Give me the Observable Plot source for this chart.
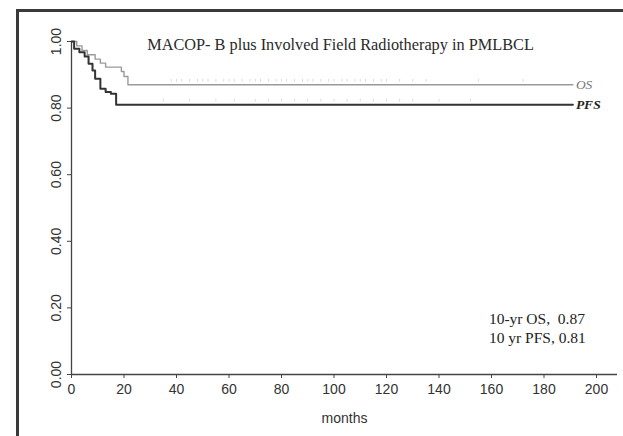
<!DOCTYPE html>
<html>
<head>
<meta charset="utf-8">
<script src="https://cdn.jsdelivr.net/npm/d3@7"></script>
<script src="https://cdn.jsdelivr.net/npm/@observablehq/plot@0.6"></script>
<style>
  html, body { margin: 0; padding: 0; background: #fff; }
  #wrap { position: relative; width: 623px; height: 436px; overflow: hidden; }
  #frame { position: absolute; left: 16px; top: 9px; width: 700px; height: 500px;
           border-left: 3px solid #3a3a3a; border-top: 3px solid #3a3a3a; box-sizing: border-box; }
  #chart { position: absolute; left: 0; top: 0; }
</style>
</head>
<body>
<div id="wrap"><div id="frame"></div><div id="chart"></div></div>
<script>
// Data
const title = "MACOP- B plus Involved Field Radiotherapy in PMLBCL";
const osTime = [0, 2, 4, 6, 9, 11, 13, 19, 20, 21.5, 191];
const osSurv = [1, 0.987, 0.973, 0.96, 0.947, 0.935, 0.923, 0.91, 0.895, 0.87, 0.87];
const pfsTime = [0, 1, 3, 5, 6.5, 8, 9, 11, 13, 15, 17, 191];
const pfsSurv = [1, 0.978, 0.968, 0.955, 0.933, 0.913, 0.888, 0.858, 0.848, 0.843, 0.81, 0.81];
const osCensor = [38, 40, 42, 45, 48, 50, 52, 55, 58, 60, 62, 65, 68, 70, 72, 75, 78, 80, 82, 85, 88, 90, 92, 95, 98, 100, 103, 105, 108, 110, 112, 115, 118, 120, 125, 130, 135, 155, 172];
const pfsCensor = [35, 45, 55, 62, 70, 75, 80, 85, 90, 95, 100, 105, 110, 115, 120, 125, 130, 140, 152];
const seriesNames = ["OS", "PFS"];
const xTicks = [0, 20, 40, 60, 80, 100, 120, 140, 160, 180, 200];
const yTicks = [0, 0.2, 0.4, 0.6, 0.8, 1.0];
const yTickLabels = ["0.00", "0.20", "0.40", "0.60", "0.80", "1.00"];
const notes = ["10-yr OS,  0.87", "10 yr PFS, 0.81"];
const noteY = [0.168, 0.111];
const xLabel = "months";

const os = osTime.map((t, i) => ({t, s: osSurv[i]}));
const pfs = pfsTime.map((t, i) => ({t, s: pfsSurv[i]}));
const osC = osCensor.map(t => ({t, s: osSurv[osSurv.length - 1]}));
const pfsC = pfsCensor.map(t => ({t, s: pfsSurv[pfsSurv.length - 1]}));
const yLab = yTicks.map((v, i) => ({v, label: yTickLabels[i]}));

const sans = "'Liberation Sans', Arial, sans-serif";
const serif = "'Liberation Serif', 'Times New Roman', serif";

const chart = Plot.plot({
  width: 623,
  height: 436,
  marginLeft: 71,
  marginRight: 6,
  marginTop: 41,
  marginBottom: 62,
  style: {fontFamily: sans, fontSize: "14px", color: "#333", background: "transparent"},
  x: {domain: [0, 208]},
  y: {domain: [0, 1]},
  marks: [
    Plot.ruleY([0], {stroke: "#444", strokeWidth: 1.3}),
    Plot.ruleX([0], {y1: 0, y2: 1, stroke: "#444", strokeWidth: 1.3}),
    Plot.axisX({ticks: xTicks, tickSize: 4, tickPadding: 6, tickFormat: d => String(d), label: null, stroke: "#444", fill: "#333", fontSize: 14, fontFamily: sans}),
    Plot.axisY({ticks: yTicks, tickSize: 4, tickFormat: () => "", label: null, stroke: "#444"}),
    Plot.text(yLab, {y: "v", text: "label", frameAnchor: "left", dx: -15, rotate: -90, textAnchor: "middle", lineAnchor: "middle", fill: "#333", fontSize: 14, fontFamily: sans}),
    Plot.text([xLabel], {frameAnchor: "bottom", dy: 44, lineAnchor: "middle", fill: "#333", fontSize: 14, fontFamily: sans}),
    Plot.text([title], {frameAnchor: "top", dx: -4, dy: 3, lineAnchor: "middle", fill: "#2a2a2a", fontSize: 16.3, fontFamily: serif}),
    // censor marks
    Plot.ruleX(osC, {x: "t", y1: d => d.s + 0.008, y2: d => d.s + 0.016, stroke: "#dadada", strokeWidth: 1}),
    Plot.ruleX(pfsC, {x: "t", y1: d => d.s + 0.008, y2: d => d.s + 0.016, stroke: "#dadada", strokeWidth: 1}),
    Plot.line(os, {x: "t", y: "s", curve: "step-after", stroke: "#9a9a9a", strokeWidth: 1.4}),
    Plot.line(pfs, {x: "t", y: "s", curve: "step-after", stroke: "#333", strokeWidth: 2}),
    Plot.text([os[os.length - 1]], {x: "t", y: "s", text: () => seriesNames[0], dx: 3, textAnchor: "start", fill: "#777", fontStyle: "italic", fontSize: 13.5, fontFamily: serif}),
    Plot.text([pfs[pfs.length - 1]], {x: "t", y: "s", text: () => seriesNames[1], dx: 3, textAnchor: "start", fill: "#222", fontStyle: "italic", fontWeight: "bold", fontSize: 13.5, fontFamily: serif}),
    Plot.text(notes, {text: d => d, x: () => 159, y: (d, i) => noteY[i], textAnchor: "start", lineAnchor: "middle", fill: "#222", fontSize: 15.5, fontFamily: serif})
  ]
});
document.getElementById("chart").appendChild(chart);
</script>
</body>
</html>
